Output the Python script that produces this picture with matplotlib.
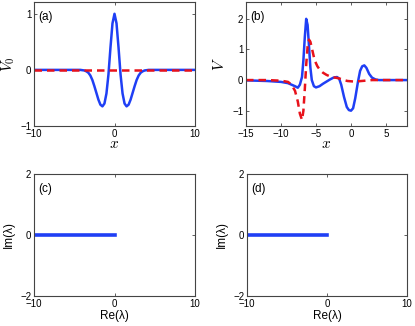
import matplotlib
matplotlib.use("Agg")
import matplotlib.pyplot as plt

plt.rcParams['font.family'] = ['Liberation Sans', 'DejaVu Sans']
plt.rcParams['mathtext.fontset'] = 'cm'

# Panel (a): V0
a_x = [-10, -4.25, -4, -3.75, -3.5, -3.25, -3, -2.75, -2.5, -2.25, -2, -1.75, -1.5, -1.25, -1, -0.75,
       -0.5, -0.25, 0, 0.25, 0.5, 0.75, 1, 1.25, 1.5, 1.75, 2, 2.25, 2.5, 2.75, 3, 3.25, 3.5,
       3.75, 4, 4.25, 10]
a_blue = [0, 0, -0.005, -0.01, -0.025, -0.05, -0.1, -0.18, -0.29, -0.41, -0.53, -0.62, -0.65, -0.6,
          -0.42, -0.08, 0.4, 0.83, 1.0, 0.83, 0.4, -0.08, -0.42, -0.6, -0.65, -0.62, -0.53, -0.41,
          -0.29, -0.18, -0.1, -0.05, -0.025, -0.01, -0.005, 0, 0]
a_red_x = [-10, 10]
a_red = [0, 0]

# Panel (b): V
b_x = [-15, -12, -10, -9, -8.5, -8, -7.6, -7.3, -7.0, -6.8, -6.6, -6.4, -6.2, -6.0, -5.8, -5.6,
       -5.3, -5.0, -4.5, -4.0, -3.5, -3.0, -2.5, -2.0, -1.7, -1.4, -1.0, -0.6, -0.3, 0.0, 0.3,
       0.6, 1.0, 1.3, 1.6, 1.9, 2.2, 2.6, 3.0, 3.5, 4.0, 8.0]
b_blue = [-0.01, -0.03, -0.06, -0.1, -0.15, -0.2, -0.25, -0.15, 0.1, 0.65, 1.4, 2.0, 1.8, 1.1,
          0.4, 0.0, -0.2, -0.24, -0.2, -0.12, -0.05, 0.02, 0.08, 0.1, 0.05, -0.15, -0.55, -0.88,
          -0.98, -1.0, -0.92, -0.6, -0.05, 0.3, 0.45, 0.48, 0.4, 0.2, 0.08, 0.02, 0.0, 0.0]
b_red_x = [-15, -12, -10, -9, -8.5, -8, -7.6, -7.3, -7.0, -6.8, -6.6, -6.4, -6.2, -6.0, -5.8, -5.5,
           -5.2, -4.8, -4.4, -4.0, -3.5, -3.0, -2.5, -2.0, -1.5, -1.0, -0.5, 0.0, 0.5, 1.0, 2.0,
           3.0, 8.0]
b_red = [0.0, 0.0, -0.02, -0.06, -0.15, -0.35, -0.7, -1.1, -1.3, -1.0, -0.3, 0.5, 1.1, 1.32,
         1.25, 0.95, 0.65, 0.45, 0.32, 0.24, 0.17, 0.12, 0.09, 0.07, 0.04, 0.0, -0.03, -0.04,
         -0.05, -0.04, -0.02, 0.0, 0.0]

# Panels (c), (d): spectra
c_re = [-10, 0]
c_im = [0, 0]
d_re = [-10, 0]
d_im = [0, 0]

W, H = 415, 326
fig = plt.figure(figsize=(W / 100, H / 100), dpi=100)

def add_ax(l, r, t, b):
    return fig.add_axes([l / W, 1 - b / H, (r - l) / W, (b - t) / H])

spine_c = '#444444'
blue = '#1f3ff5'
red = '#e8121b'

def style(ax):
    for s in ax.spines.values():
        s.set_color(spine_c)
        s.set_linewidth(0.8)
    ax.tick_params(direction='in', length=2.5, width=0.6, colors=spine_c, labelcolor='black',
                   labelsize=7, top=True, right=True, pad=2)

ax1 = add_ax(34, 195, 2, 126)
ax1.plot(a_x, a_blue, color=blue, lw=1.8)
ax1.plot(a_red_x, a_red, color=red, lw=1.8, ls=(0, (3, 2)))
ax1.set_xlim(-10, 10)
ax1.set_ylim(-1, 1.21)
ax1.set_xticks([-10, 0, 10])
ax1.set_yticks([-1, 0, 1])
ax1.set_xlabel('$x$', fontsize=11, labelpad=-1)
ax1.set_ylabel('$V_0$', fontsize=11, labelpad=2)
ax1.text(0.025, 0.93, '(a)', transform=ax1.transAxes, fontsize=8.5, va='top')
style(ax1)

ax2 = add_ax(246, 407, 2, 126)
ax2.plot(b_x, b_blue, color=blue, lw=1.8)
ax2.plot(b_red_x, b_red, color=red, lw=1.8, ls=(0, (3, 2)))
ax2.set_xlim(-15, 8)
ax2.set_ylim(-1.5, 2.55)
ax2.set_xticks([-15, -10, -5, 0, 5])
ax2.set_yticks([-1, 0, 1, 2])
ax2.set_xlabel('$x$', fontsize=11, labelpad=-1)
ax2.set_ylabel('$V$', fontsize=11, labelpad=4)
ax2.text(0.025, 0.93, '(b)', transform=ax2.transAxes, fontsize=8.5, va='top')
style(ax2)

ax3 = add_ax(34, 195, 174, 296)
ax3.plot(c_re, c_im, color=blue, lw=2.6)
ax3.set_xlim(-10, 10)
ax3.set_ylim(-2, 2)
ax3.set_xticks([-10, 0, 10])
ax3.set_yticks([-2, 0, 2])
ax3.set_xlabel('Re(λ)', fontsize=8.5, labelpad=1)
ax3.set_ylabel('Im(λ)', fontsize=8.5, labelpad=4)
ax3.text(0.025, 0.93, '(c)', transform=ax3.transAxes, fontsize=8.5, va='top')
style(ax3)

ax4 = add_ax(247, 407, 174, 296)
ax4.plot(d_re, d_im, color=blue, lw=2.6)
ax4.set_xlim(-10, 10)
ax4.set_ylim(-2, 2)
ax4.set_xticks([-10, 0, 10])
ax4.set_yticks([-2, 0, 2])
ax4.set_xlabel('Re(λ)', fontsize=8.5, labelpad=1)
ax4.set_ylabel('Im(λ)', fontsize=8.5, labelpad=4)
ax4.text(0.025, 0.93, '(d)', transform=ax4.transAxes, fontsize=8.5, va='top')
style(ax4)

fig.savefig('out.png', dpi=100)
